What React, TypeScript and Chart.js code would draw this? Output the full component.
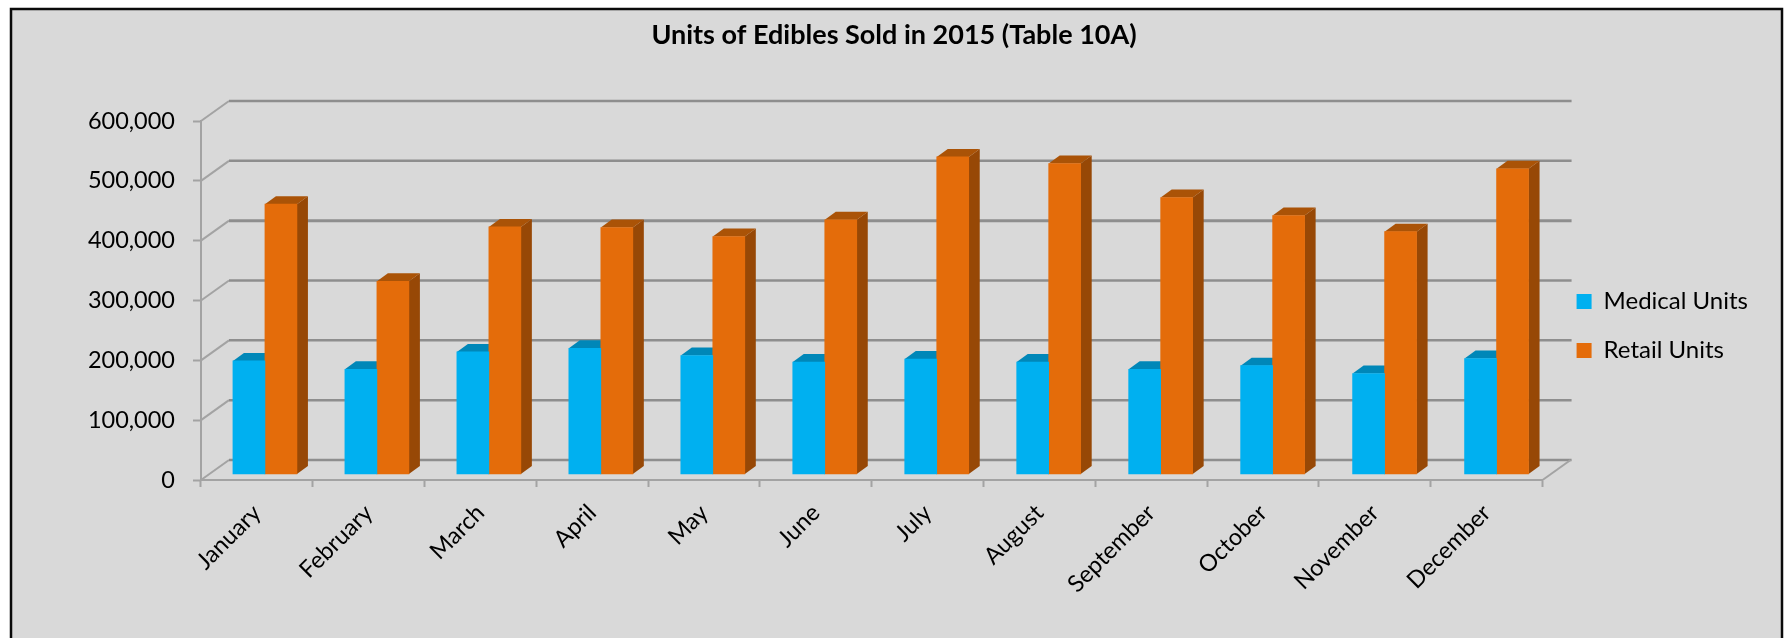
import React, { useEffect, useRef } from "react";
import { Chart, registerables } from "chart.js";

Chart.register(...registerables);

const months = ["January", "February", "March", "April", "May", "June", "July", "August", "September", "October", "November", "December"];
const medicalUnits = [189000, 175000, 204000, 210000, 198000, 187000, 192000, 187000, 175000, 181000, 168000, 193000];
const retailUnits = [451000, 322000, 413000, 412000, 397000, 425000, 530000, 519000, 462000, 432000, 405000, 510000];
const seriesNames = ["Medical Units", "Retail Units"];
const chartTitle = "Units of Edibles Sold in 2015 (Table 10A)";

const FONT = "Lato";
const WALL_DX = 28;
const WALL_DY = 20;
const BAR_DX = 11;
const BAR_DY = 8;

const threeD = {
  id: "threeD",
  beforeDraw(chart: any) {
    const { ctx, width, height } = chart;
    ctx.save();
    ctx.fillStyle = "#d9d9d9";
    ctx.fillRect(11, 9, width - 13, height - 9);
    ctx.strokeStyle = "#0a0a0a";
    ctx.lineWidth = 2.5;
    ctx.beginPath();
    ctx.moveTo(11, height);
    ctx.lineTo(11, 9);
    ctx.lineTo(width - 2, 9);
    ctx.lineTo(width - 2, height);
    ctx.stroke();
    ctx.restore();
  },
  beforeDatasetsDraw(chart: any) {
    const { ctx, chartArea: a, scales } = chart;
    const y = scales.y;
    ctx.save();
    // walls
    y.ticks.forEach((t: any) => {
      const py = y.getPixelForValue(t.value);
      ctx.beginPath();
      ctx.moveTo(a.left, py);
      ctx.lineTo(a.left + WALL_DX, py - WALL_DY);
      ctx.strokeStyle = "#a3a3a3";
      ctx.lineWidth = 2;
      ctx.stroke();
      ctx.beginPath();
      ctx.moveTo(a.left + WALL_DX, py - WALL_DY);
      ctx.lineTo(a.right + WALL_DX + 1, py - WALL_DY);
      ctx.strokeStyle = "#8e8e8e";
      ctx.lineWidth = t.value === 400000 ? 3 : 2.5;
      ctx.stroke();
    });
    ctx.beginPath();
    ctx.moveTo(a.right, a.bottom);
    ctx.lineTo(a.right + WALL_DX, a.bottom - WALL_DY);
    ctx.strokeStyle = "#a3a3a3";
    ctx.lineWidth = 2;
    ctx.stroke();
    // bar depth faces
    const faces = [
      { side: "#00759f", top: "#0087b8" },
      { side: "#974806", top: "#aa5307" },
    ];
    chart.data.datasets.forEach((_: any, di: number) => {
      chart.getDatasetMeta(di).data.forEach((el: any) => {
        const { x, y: top, base, width } = el.getProps(["x", "y", "base", "width"], true);
        const l = x - width / 2;
        const r = x + width / 2;
        ctx.fillStyle = faces[di].side;
        ctx.beginPath();
        ctx.moveTo(r, top);
        ctx.lineTo(r + BAR_DX, top - BAR_DY);
        ctx.lineTo(r + BAR_DX, base - BAR_DY);
        ctx.lineTo(r, base);
        ctx.closePath();
        ctx.fill();
        ctx.fillStyle = faces[di].top;
        ctx.beginPath();
        ctx.moveTo(l, top);
        ctx.lineTo(l + BAR_DX, top - BAR_DY);
        ctx.lineTo(r + BAR_DX, top - BAR_DY);
        ctx.lineTo(r, top);
        ctx.closePath();
        ctx.fill();
      });
    });
    ctx.restore();
  },
};

export default function App() {
  const ref = useRef<HTMLCanvasElement>(null);
  useEffect(() => {
    const chart = new Chart(ref.current!, {
      type: "bar",
      data: {
        labels: months,
        datasets: [
          {
            label: seriesNames[0],
            data: medicalUnits.map((v, i) => ({ x: i, y: v })),
            backgroundColor: "#00b0f0",
            xAxisID: "xBar",
            yAxisID: "yBar",
            barThickness: 32,
            clip: false,
          },
          {
            label: seriesNames[1],
            data: retailUnits.map((v, i) => ({ x: i, y: v })),
            backgroundColor: "#e46c0a",
            xAxisID: "xBar",
            yAxisID: "yBar",
            barThickness: 32,
            clip: false,
          },
        ] as any,
      },
      plugins: [threeD],
      options: {
        responsive: false,
        animation: false,
        layout: { padding: { left: 30, right: 26, top: 14, bottom: 0 } },
        plugins: {
          tooltip: { enabled: false },
          title: {
            display: true,
            text: chartTitle,
            color: "#000",
            font: { family: FONT, size: 27, weight: "bold" },
            padding: { top: 5, bottom: 69.6 },
          },
          legend: {
            position: "right",
            labels: {
              color: "#000",
              font: { family: FONT, size: 24 },
              boxWidth: 15,
              boxHeight: 15,
              padding: 25,
            },
          },
        },
        scales: {
          x: {
            type: "category",
            position: "bottom",
            offset: true,
            grid: { drawOnChartArea: false, offset: true, tickLength: 7, tickColor: "#a3a3a3", tickWidth: 2 },
            border: { color: "#a3a3a3", width: 2 },
            ticks: {
              color: "#000",
              font: { family: FONT, size: 23.5 },
              autoSkip: false,
              minRotation: 45,
              maxRotation: 45,
              padding: 12,
            },
            afterFit(s: any) {
              s.height = 158;
            },
          },
          xBar: {
            type: "linear",
            display: false,
            position: "bottom",
            offset: false,
            grid: { offset: false },
            min: -0.571,
            max: 11.411,
          },
          y: {
            type: "linear",
            position: "left",
            min: 0,
            max: 600000,
            grid: { drawOnChartArea: false, tickLength: 8, tickColor: "#a3a3a3", tickWidth: 2 },
            border: { color: "#a3a3a3", width: 2 },
            ticks: {
              stepSize: 100000,
              color: "#000",
              padding: 18,
              font: { family: FONT, size: 23.5 },
              callback: (v: any) => Number(v).toLocaleString("en-US"),
            },
            afterFit(s: any) {
              s.width = 171;
            },
          },
          yBar: { type: "linear", display: false, position: "left", min: -10028, max: 589972 },
          gap: {
            type: "linear",
            position: "right",
            display: true,
            ticks: { display: false },
            grid: { display: false },
            border: { display: false },
            afterFit(s: any) {
              s.width = 9;
            },
          },
        },
      } as any,
    });
    return () => chart.destroy();
  }, []);
  return (
    <div style={{ position: "absolute", left: 0, top: 0, width: 1784, height: 638 }}>
      <canvas ref={ref} width={1784} height={638} style={{ display: "block" }} />
    </div>
  );
}
